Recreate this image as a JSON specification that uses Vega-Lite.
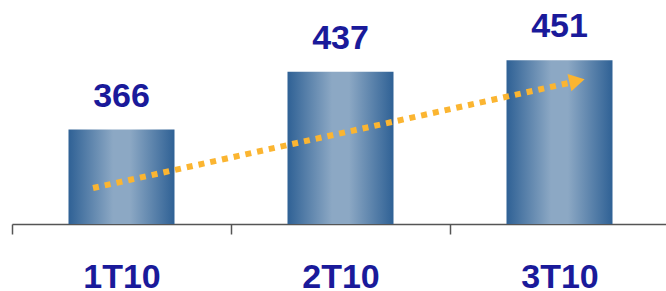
{
  "$schema": "https://vega.github.io/schema/vega-lite/v6.json",
  "width": 657,
  "height": 224,
  "autosize": {"type": "none"},
  "padding": {"left": 12, "top": 0, "right": 0, "bottom": 67},
  "background": "white",
  "config": {"view": {"stroke": null}, "font": "Liberation Sans"},
  "datasets": {
    "bars": [
      {"period": "1T10", "value": 366},
      {"period": "2T10", "value": 437},
      {"period": "3T10", "value": 451}
    ],
    "trend": [
      {"pos": 0.87, "level": 294.2},
      {"pos": 3.04, "level": 423}
    ],
    "head": [
      {"pos": 3.08, "level": 425.6}
    ]
  },
  "layer": [
    {
      "data": {"name": "bars"},
      "encoding": {
        "x": {
          "field": "period", "type": "nominal", "sort": null,
          "scale": {"paddingInner": 0, "paddingOuter": 0},
          "axis": {
            "title": null, "labelAngle": 0, "tickBand": "extent",
            "domainColor": "#555555", "tickColor": "#555555", "tickSize": 10,
            "domainWidth": 1.5, "tickWidth": 1.5,
            "labelFont": "Liberation Sans", "labelFontSize": 34, "labelFontWeight": "bold",
            "labelColor": "#1A1A9A", "labelPadding": 26
          }
        },
        "y": {
          "field": "value", "type": "quantitative",
          "scale": {"domain": [250, 525], "zero": false, "nice": false},
          "axis": null
        }
      },
      "layer": [
        {
          "mark": {
            "type": "bar",
            "width": {"band": 0.484},
            "fill": {
              "gradient": "linear",
              "x1": 0, "x2": 1, "y1": 0, "y2": 0,
              "stops": [
                {"offset": 0, "color": "#2F6195"},
                {"offset": 0.42, "color": "#8CA8C4"},
                {"offset": 0.58, "color": "#8CA8C4"},
                {"offset": 1, "color": "#2F6195"}
              ]
            },
            "clip": true
          }
        },
        {
          "mark": {"type": "text", "baseline": "alphabetic", "dy": -23, "font": "Liberation Sans", "fontSize": 34, "fontWeight": "bold", "color": "#1A1A9A"},
          "encoding": {
            "text": {"field": "value", "type": "quantitative"}
          }
        }
      ]
    },
    {
      "layer": [
        {
          "data": {"name": "trend"},
          "mark": {"type": "line", "color": "#FBB531", "strokeWidth": 6, "strokeDash": [6, 6]},
          "encoding": {
            "x": {"field": "pos", "type": "quantitative", "scale": {"domain": [0.5, 3.5], "nice": false, "zero": false}, "axis": null},
            "y": {"field": "level", "type": "quantitative"}
          }
        },
        {
          "data": {"name": "head"},
          "mark": {"type": "point", "shape": "triangle-right", "filled": true, "color": "#FBB531", "opacity": 1, "size": 320, "angle": -12.5},
          "encoding": {
            "x": {"field": "pos", "type": "quantitative", "axis": null},
            "y": {"field": "level", "type": "quantitative"}
          }
        }
      ]
    }
  ],
  "resolve": {"scale": {"x": "independent"}}
}
